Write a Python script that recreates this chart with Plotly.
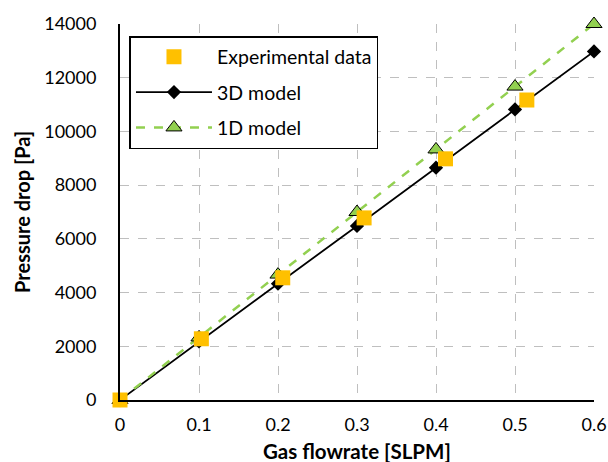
import plotly.graph_objects as go

exp_x = [0, 0.103, 0.206, 0.309, 0.412, 0.515]
exp_y = [0, 2280, 4550, 6780, 8980, 11170]
m3d_x = [0, 0.1, 0.2, 0.3, 0.4, 0.5, 0.6]
m3d_y = [0, 2180, 4330, 6480, 8650, 10820, 12980]
m1d_x = [0, 0.1, 0.2, 0.3, 0.4, 0.5, 0.6]
m1d_y = [0, 2330, 4670, 7000, 9330, 11670, 14000]
x_ticks = [0, 0.1, 0.2, 0.3, 0.4, 0.5, 0.6]
x_tick_labels = ["0", "0.1", "0.2", "0.3", "0.4", "0.5", "0.6"]
y_ticks = [0, 2000, 4000, 6000, 8000, 10000, 12000, 14000]
y_tick_labels = ["0", "2000", "4000", "6000", "8000", "10000", "12000", "14000"]

fig = go.Figure()
fig.add_trace(go.Scatter(x=m3d_x, y=m3d_y, mode="lines+markers", name="3D model",
                         legendrank=2, legendgroup="b",
                         line=dict(color="black", width=1.8),
                         marker=dict(symbol="diamond", size=11, color="black"), cliponaxis=False))
fig.add_trace(go.Scatter(x=m1d_x, y=m1d_y, mode="lines+markers", name="1D model",
                         legendrank=3, legendgroup="c",
                         line=dict(color="#92D050", width=2.5, dash="dash"),
                         marker=dict(symbol="triangle-up", size=14, color="#92D050",
                                     line=dict(color="black", width=1)), cliponaxis=False))
fig.add_trace(go.Scatter(x=exp_x, y=exp_y, mode="markers", name="Experimental data",
                         legendrank=1, legendgroup="a",
                         marker=dict(symbol="square", size=15, color="#FFC000"), cliponaxis=False))

fig.update_layout(
    width=608, height=462,
    margin=dict(l=120, r=14, t=24, b=62),
    paper_bgcolor="white", plot_bgcolor="white",
    font=dict(family="Lato, Open Sans, sans-serif", size=18, color="black"),
    showlegend=True,
    legend=dict(x=0.02, y=0.968, xanchor="left", yanchor="top",
                bgcolor="white", bordercolor="black", borderwidth=1.5,
                font=dict(size=19.5), itemwidth=76, tracegroupgap=7,
                entrywidth=170),
    annotations=[
        dict(text="<b>Gas flowrate [SLPM]</b>", xref="paper", yref="paper",
             x=0.5, y=-0.136, xanchor="center", yanchor="middle",
             showarrow=False, font=dict(size=20.5)),
        dict(text="<b>Pressure drop [Pa]</b>", xref="paper", yref="paper",
             x=-0.207, y=0.5, xanchor="center", yanchor="middle", textangle=-90,
             showarrow=False, font=dict(size=20)),
    ],
)
fig.update_xaxes(range=[0, 0.6], tickvals=x_ticks, ticktext=x_tick_labels, automargin=False,
                 showgrid=True, gridcolor="#BFBFBF", griddash="dash", gridwidth=1,
                 showline=True, linecolor="black", linewidth=2, zeroline=False,
                 ticks="", ticklabelstandoff=7)
fig.update_yaxes(range=[0, 14000], tickvals=y_ticks, ticktext=y_tick_labels, automargin=False,
                 showgrid=True, gridcolor="#BFBFBF", griddash="dash", gridwidth=1,
                 showline=True, linecolor="black", linewidth=2, zeroline=False,
                 ticks="", ticklabelstandoff=18)

fig.write_html("out.html")
